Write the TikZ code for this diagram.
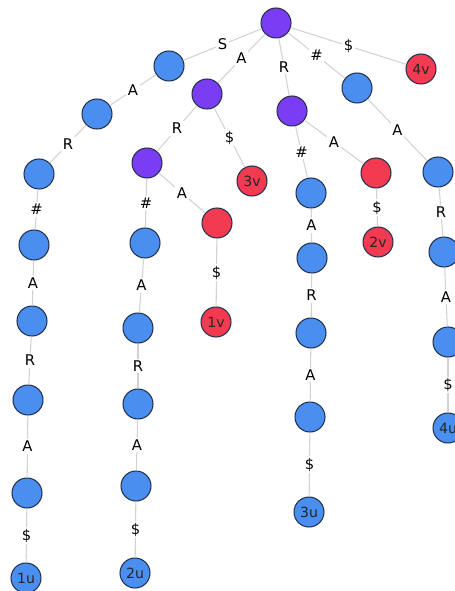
\documentclass[tikz,border=0pt]{standalone}
\usepackage{fontspec}
\setmainfont{DejaVu Sans}
\usepackage{tikz}
\usetikzlibrary{positioning}

\definecolor{nodeblue}{HTML}{4A8FEF}
\definecolor{nodepurple}{HTML}{7B3DF3}
\definecolor{nodered}{HTML}{F23A50}
\definecolor{rimdark}{HTML}{24324F}
\definecolor{edgegray}{HTML}{D2D2D2}

\begin{document}
\begin{tikzpicture}[
  x=0.02cm, y=-0.02cm,
  vx/.style={circle, draw=rimdark, line width=0.6pt, minimum size=0.6cm, inner sep=0pt,
             font=\fontsize{8}{9}\selectfont, text=black!85},
  blue/.style={vx, fill=nodeblue},
  purple/.style={vx, fill=nodepurple},
  red/.style={vx, fill=nodered},
  link/.style={draw=edgegray, line width=0.6pt},
  lbl/.style={fill=white, inner sep=1pt, font=\fontsize{8.4}{9}\selectfont},
]
\useasboundingbox (0,0) rectangle (455,591);

% root and its children
\node[purple] (root) at (276,23)  {};
\node[blue]   (s)    at (169,66)  {};
\node[purple] (a)    at (207,94)  {};
\node[purple] (r)    at (292,111) {};
\node[blue]   (h)    at (357,88)  {};
\node[red]    (v4)   at (421,69)  {4v};

% branch S A R # A R A $
\node[blue] (sa)      at (97,114)  {};
\node[blue] (sar)     at (39,174)  {};
\node[blue] (sarh)    at (34,245)  {};
\node[blue] (sarha)   at (32,321)  {};
\node[blue] (sarhar)  at (28,400)  {};
\node[blue] (sarhara) at (27,493)  {};
\node[blue] (u1)      at (26,578)  {1u};

% branch A
\node[purple] (ar)     at (147,163) {};
\node[red]    (v3)     at (252,181) {3v};
\node[blue]   (arh)    at (145,243) {};
\node[blue]   (arha)   at (138,328) {};
\node[blue]   (arhar)  at (138,404) {};
\node[blue]   (arhara) at (136,486) {};
\node[blue]   (u2)     at (135,573) {2u};
\node[red]    (ara)    at (217,223) {};
\node[red]    (v1)     at (216,322) {1v};

% branch R
\node[blue] (rh)    at (311,193) {};
\node[blue] (rha)   at (312,258) {};
\node[blue] (rhar)  at (311,333) {};
\node[blue] (rhara) at (310,417) {};
\node[blue] (u3)    at (309,512) {3u};
\node[red]  (ra)    at (376,173) {};
\node[red]  (v2)    at (378,242) {2v};

% branch #
\node[blue] (ha)   at (438,172) {};
\node[blue] (har)  at (444,252) {};
\node[blue] (hara) at (448,342) {};
\node[blue] (u4)   at (448,428) {4u};

% edges
\draw[link] (root) -- node[lbl] {S} (s);
\draw[link] (root) -- node[lbl] {A} (a);
\draw[link] (root) -- node[lbl] {R} (r);
\draw[link] (root) -- node[lbl] {\#} (h);
\draw[link] (root) -- node[lbl] {\$} (v4);

\draw[link] (s) -- node[lbl] {A} (sa);
\draw[link] (sa) -- node[lbl] {R} (sar);
\draw[link] (sar) -- node[lbl] {\#} (sarh);
\draw[link] (sarh) -- node[lbl] {A} (sarha);
\draw[link] (sarha) -- node[lbl] {R} (sarhar);
\draw[link] (sarhar) -- node[lbl] {A} (sarhara);
\draw[link] (sarhara) -- node[lbl] {\$} (u1);

\draw[link] (a) -- node[lbl] {R} (ar);
\draw[link] (a) -- node[lbl] {\$} (v3);
\draw[link] (ar) -- node[lbl] {\#} (arh);
\draw[link] (ar) -- node[lbl] {A} (ara);
\draw[link] (ara) -- node[lbl] {\$} (v1);
\draw[link] (arh) -- node[lbl] {A} (arha);
\draw[link] (arha) -- node[lbl] {R} (arhar);
\draw[link] (arhar) -- node[lbl] {A} (arhara);
\draw[link] (arhara) -- node[lbl] {\$} (u2);

\draw[link] (r) -- node[lbl] {\#} (rh);
\draw[link] (r) -- node[lbl] {A} (ra);
\draw[link] (ra) -- node[lbl] {\$} (v2);
\draw[link] (rh) -- node[lbl] {A} (rha);
\draw[link] (rha) -- node[lbl] {R} (rhar);
\draw[link] (rhar) -- node[lbl] {A} (rhara);
\draw[link] (rhara) -- node[lbl] {\$} (u3);

\draw[link] (h) -- node[lbl] {A} (ha);
\draw[link] (ha) -- node[lbl] {R} (har);
\draw[link] (har) -- node[lbl] {A} (hara);
\draw[link] (hara) -- node[lbl] {\$} (u4);
\end{tikzpicture}
\end{document}
